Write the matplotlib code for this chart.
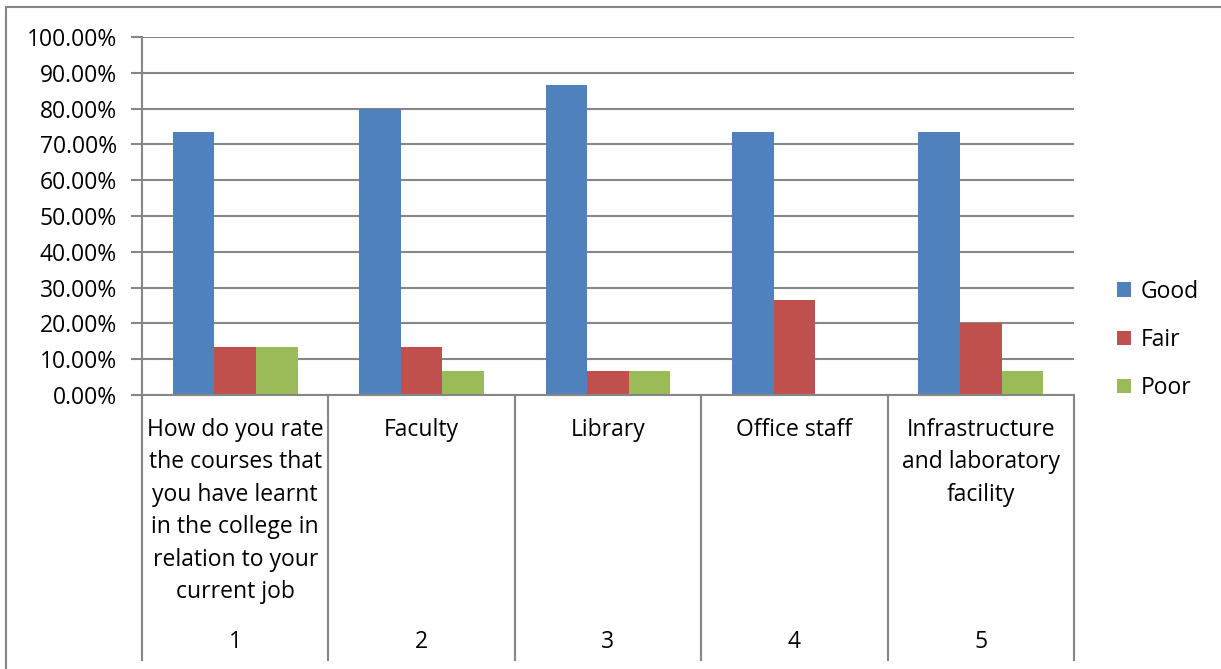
import matplotlib.pyplot as plt
from matplotlib.patches import Rectangle
from matplotlib.lines import Line2D

# data
categories = ["How do you rate\nthe courses that\nyou have learnt\nin the college in\nrelation to your\ncurrent job",
              "Faculty", "Library", "Office staff",
              "Infrastructure\nand laboratory\nfacility"]
numbers = ["1", "2", "3", "4", "5"]
series = ["Good", "Fair", "Poor"]
good = [73.33, 80.0, 86.67, 73.33, 73.33]
fair = [13.33, 13.33, 6.67, 26.67, 20.0]
poor = [13.33, 6.67, 6.67, 0.0, 6.67]
colors = ["#4f81bd", "#c0504d", "#9bbb59"]

plt.rcParams['font.family'] = ['Open Sans', 'DejaVu Sans']

W, H = 1221, 669
fig = plt.figure(figsize=(W / 100, H / 100), dpi=100)

# pixel helpers
def fx(px):
    return px / W

def fy(py):
    return 1 - py / H

left, right, top, bottom = 142, 1074, 37, 395
ax = fig.add_axes([fx(left), fy(bottom), fx(right) - fx(left), fy(top) - fy(bottom)])

bw = 0.223
for k, vals in enumerate([good, fair, poor]):
    xs = [i + 0.5 + (k - 1) * bw for i in range(len(vals))]
    ax.bar(xs, vals, width=bw, color=colors[k], label=series[k], zorder=3)

fs = 16.5
ax.set_xlim(0, 5)
ax.set_ylim(0, 100)
ax.set_yticks(range(0, 101, 10))
ax.set_yticklabels(["%.2f%%" % v for v in range(0, 101, 10)], fontsize=fs)
ax.yaxis.grid(True, color="#868686", linewidth=1.5, zorder=0)
ax.set_xticks([])
ax.tick_params(axis="y", length=8, width=1.5, color="#868686", pad=10)
for s in ["top", "right", "bottom"]:
    ax.spines[s].set_visible(False)
ax.spines["left"].set_color("#868686")
ax.spines["left"].set_linewidth(1.5)
ax.axhline(0, color="#868686", linewidth=1.5, zorder=4, clip_on=False)

# multi-level category axis
catw = (right - left) / 5
for i in range(6):
    x = left + i * catw
    fig.add_artist(Line2D([fx(x), fx(x)], [fy(bottom), fy(660)], color="#868686", linewidth=1.5))
for i in range(5):
    cx = left + (i + 0.5) * catw
    fig.text(fx(cx), fy(418), categories[i], ha="center", va="top", fontsize=fs, linespacing=1.47)
    fig.text(fx(cx), fy(642), numbers[i], ha="center", va="center", fontsize=fs)

# chart border
fig.add_artist(Rectangle((fx(6), fy(700)), fx(1240), fy(7) - fy(700), fill=False,
                         edgecolor="#868686", linewidth=1.5))

leg = fig.legend(loc="center left", bbox_to_anchor=(fx(1117), fy(340)), frameon=False,
                 fontsize=fs, handlelength=0.62, handleheight=0.62, handletextpad=0.4,
                 labelspacing=1.05, borderpad=0, borderaxespad=0)

fig.savefig("out.png", dpi=100)
